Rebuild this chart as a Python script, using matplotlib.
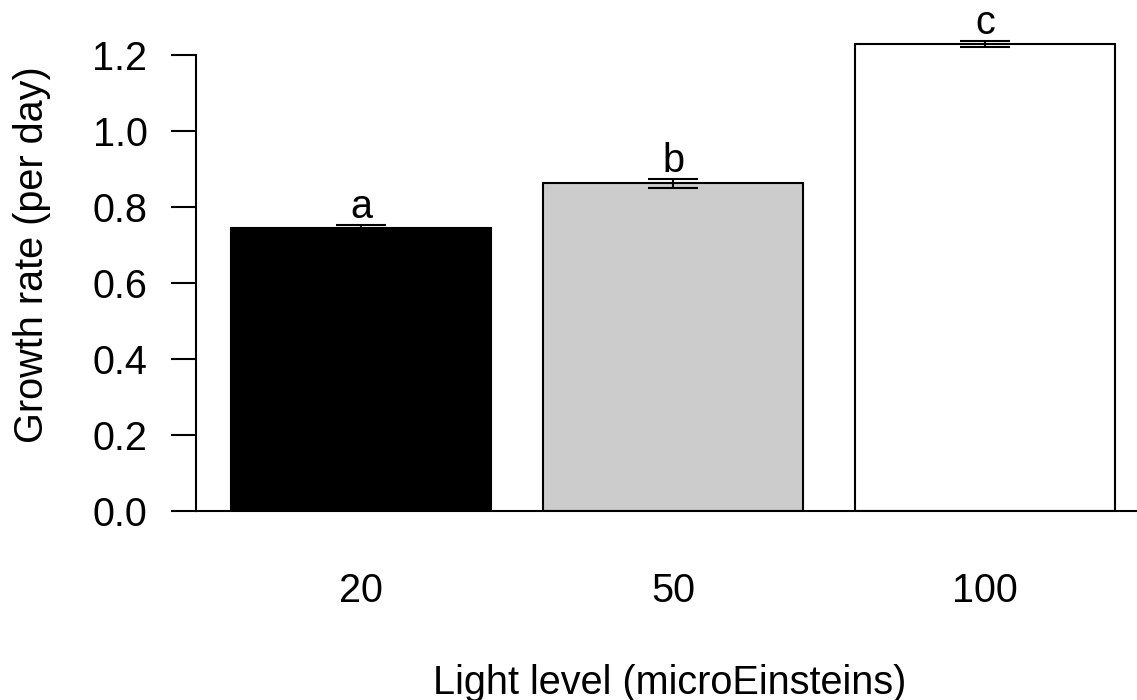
import matplotlib
matplotlib.use("Agg")
from matplotlib import pyplot as plt

plt.rcParams['font.family']=['Liberation Sans','DejaVu Sans']

# data
levels=["20","50","100"]
growth=[0.745,0.862,1.229]
se=[0.008,0.012,0.009]
letters=["a","b","c"]
colours=["black","#cccccc","white"]
yticks=[0.0,0.2,0.4,0.6,0.8,1.0,1.2]

W,H=1137,700
fig=plt.figure(figsize=(W/100,H/100),dpi=100)
# axes placed in pixels: left edge at 196, zero line at 511
ax=fig.add_axes([196/W,(H-511)/H,941/W,501/H])

# R barplot style positions: width 1, space 0.2
xs=[0.7+1.2*i for i in range(len(levels))]
ax.bar(xs,growth,width=1.0,color=colours,edgecolor="black",linewidth=1.5,zorder=2)
ax.errorbar(xs,growth,yerr=se,fmt="none",ecolor="black",elinewidth=1.5,
	capsize=18,capthick=1.5,zorder=3)
for x,g,s,l in zip(xs,growth,se,letters):
	ax.annotate(l,(x,g+s),xytext=(0,5),textcoords="offset points",
		ha="center",va="baseline",fontsize=28.5)

ax.axhline(0,color="black",linewidth=1.5,clip_on=False,zorder=4)

ax.set_xlim(0.064,0.064+941/260)
ax.set_ylim(0,501/380)

for s in ["top","right","bottom"]:
	ax.spines[s].set_visible(False)
ax.spines["left"].set_bounds(0,1.2)
ax.spines["left"].set_linewidth(1.5)

ax.set_yticks(yticks)
ax.set_yticklabels(["%.1f"%v for v in yticks],fontsize=28.5)
ax.tick_params(axis="y",length=18,width=1.5,pad=17)
ax.set_xticks(xs)
ax.set_xticklabels(levels,fontsize=28.5)
ax.tick_params(axis="x",length=0,pad=44)

fig.text(670/W,1-683/H,"Light level (microEinsteins)",ha="center",va="center",fontsize=28.5)
fig.text(32/W,1-255/H,"Growth rate (per day)",ha="center",va="center",rotation=90,fontsize=28.5)

fig.savefig("out.png",dpi=100)
